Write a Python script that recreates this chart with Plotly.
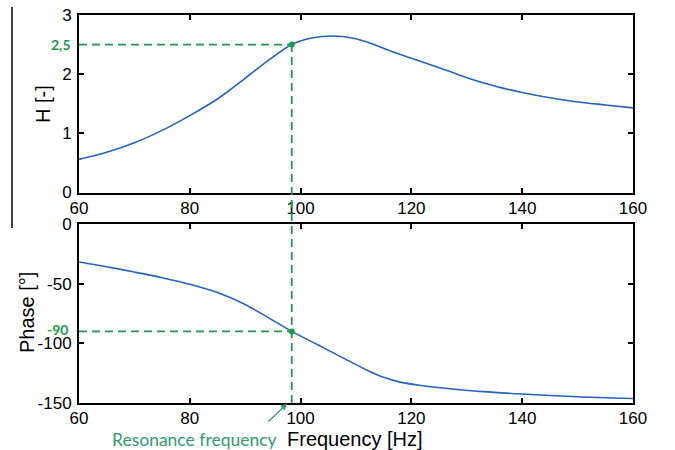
import plotly.graph_objects as go

# ---- data ----
freq_mag = [60, 65, 70, 75, 80, 85, 90, 94, 98.4, 102, 106, 110, 113, 116, 120, 125, 130, 135, 140, 145, 150, 155, 160]
mag_H    = [0.56, 0.68, 0.84, 1.05, 1.30, 1.58, 1.93, 2.22, 2.50, 2.61, 2.645, 2.60, 2.51, 2.40, 2.27, 2.11,
            1.94, 1.80, 1.69, 1.60, 1.53, 1.48, 1.43]

freq_ph  = [60, 65, 70, 75, 80, 85, 90, 94, 98.4, 103, 108, 112, 115, 118, 122, 127, 133, 140, 150, 160]
phase    = [-31.8, -35.8, -40.3, -45, -50.5, -57.5, -67.5, -78, -90, -101, -113, -122.5, -128.5, -132.5,
            -135.5, -138, -140.5, -142.5, -144.8, -146.2]

f_res = 98.4
H_res = 2.5
ph_res = -90

x_ticks = [60, 80, 100, 120, 140, 160]
x_ticktext = ["60", "80", "100", "120", "140", "160"]
yH_ticks = [0, 1, 2, 3]
yH_ticktext = ["0", "1", "2", "3"]
yP_ticks = [0, -50, -100, -150]
yP_ticktext = ["0", "-50", "-100", "-150"]

# ---- layout constants ----
W, H = 675, 450
ml, mr, mt, mb = 79, 42, 15, 47
plot_w = W - ml - mr
plot_h = H - mt - mb
top_dom = [(403 - 192.5) / plot_h, 1.0]
bot_dom = [0.0, (403 - 224) / plot_h]
H_range = [0, 3]
P_range = [-150, 0]

blue = "#2563c4"
green = "#1b9a4b"
green_txt = "#2f9a6f"
font_ax = "Liberation Sans, Arial, sans-serif"
font_green = "Lato, Open Sans, sans-serif"
DASH = "8px,5px"

fig = go.Figure()
fig.add_trace(go.Scatter(x=freq_mag, y=mag_H, mode="lines",
                         line=dict(color=blue, width=1.6, shape="spline", smoothing=0.7),
                         xaxis="x", yaxis="y", showlegend=False, hoverinfo="skip"))
fig.add_trace(go.Scatter(x=freq_ph, y=phase, mode="lines",
                         line=dict(color=blue, width=1.6, shape="spline", smoothing=0.7),
                         xaxis="x2", yaxis="y2", showlegend=False, hoverinfo="skip"))

# dashed guide lines
fig.add_trace(go.Scatter(x=[60, f_res], y=[H_res, H_res], mode="lines", line=dict(color=green, width=1.8, dash=DASH),
                         xaxis="x", yaxis="y", showlegend=False, hoverinfo="skip"))
fig.add_trace(go.Scatter(x=[60, f_res], y=[ph_res, ph_res], mode="lines", line=dict(color=green, width=1.8, dash=DASH),
                         xaxis="x2", yaxis="y2", showlegend=False, hoverinfo="skip"))
fig.add_trace(go.Scatter(x=[f_res], y=[H_res], mode="markers", marker=dict(color=green, size=6),
                         xaxis="x", yaxis="y", showlegend=False, hoverinfo="skip"))
fig.add_trace(go.Scatter(x=[f_res], y=[ph_res], mode="markers", marker=dict(color=green, size=6),
                         xaxis="x2", yaxis="y2", showlegend=False, hoverinfo="skip"))

y_top_paper = top_dom[0] + (H_res - H_range[0]) / (H_range[1] - H_range[0]) * (top_dom[1] - top_dom[0])
fig.add_shape(type="line", xref="x", yref="paper", x0=f_res, x1=f_res, y0=0, y1=y_top_paper,
              line=dict(color=green, width=1.8, dash=DASH))

# stray vertical line at far left
fig.add_shape(type="line", xref="paper", yref="paper", x0=(12 - ml) / plot_w, x1=(12 - ml) / plot_w,
              y0=(403 - 228) / plot_h, y1=(403 - 7) / plot_h, line=dict(color="black", width=1.5))

axis_common = dict(showline=True, linecolor="black", linewidth=2, mirror="ticks", ticks="inside",
                   ticklen=5, tickwidth=1.5, tickcolor="black", showgrid=False, zeroline=False,
                   automargin=False,
                   tickfont=dict(family=font_ax, size=17, color="black"))

fig.update_layout(
    width=W, height=H,
    margin=dict(l=ml, r=mr, t=mt, b=mb, autoexpand=False),
    paper_bgcolor="white", plot_bgcolor="white",
    xaxis=dict(domain=[0, 1], anchor="y", range=[60, 160], tickvals=x_ticks, ticktext=x_ticktext,
               ticklabelstandoff=-1, **axis_common),
    yaxis=dict(domain=top_dom, anchor="x", range=H_range, tickvals=yH_ticks, ticktext=yH_ticktext,
               ticklabelstandoff=2, **axis_common),
    xaxis2=dict(domain=[0, 1], anchor="y2", range=[60, 160], tickvals=x_ticks, ticktext=x_ticktext,
                ticklabelstandoff=-1, **axis_common),
    yaxis2=dict(domain=bot_dom, anchor="x2", range=P_range, tickvals=yP_ticks, ticktext=yP_ticktext,
                ticklabelstandoff=2, **axis_common),
)

# y axis titles
fig.add_annotation(x=(43 - ml) / plot_w, xref="paper", y=(403 - 104) / plot_h, yref="paper", text="H [-]",
                   textangle=-90, showarrow=False, xanchor="center", yanchor="middle",
                   font=dict(family=font_ax, size=20, color="black"))
fig.add_annotation(x=(27 - ml) / plot_w, xref="paper", y=(403 - 313) / plot_h, yref="paper", text="Phase [°]",
                   textangle=-90, showarrow=False, xanchor="center", yanchor="middle",
                   font=dict(family=font_ax, size=20, color="black"))

# green value labels on y axes
fig.add_annotation(x=0, xref="paper", y=H_res, yref="y", text="<b>2,5</b>", showarrow=False,
                   xanchor="right", xshift=-6, font=dict(family=font_green, size=14, color=green))
fig.add_annotation(x=0, xref="paper", y=ph_res, yref="y2", text="<b>-90</b>", showarrow=False,
                   xanchor="right", xshift=-9, yshift=2, font=dict(family=font_green, size=14, color=green))

# x axis title and resonance label
fig.add_annotation(x=(285 - ml) / plot_w, xref="paper", y=-(439 - 403) / plot_h, yref="paper",
                   text="Frequency [Hz]", showarrow=False, xanchor="left", yanchor="middle",
                   font=dict(family=font_ax, size=20, color="black"))
fig.add_annotation(x=(279 - ml) / plot_w, xref="paper", y=-(439 - 403) / plot_h, yref="paper",
                   text="Resonance frequency", showarrow=False, xanchor="right", yanchor="middle",
                   font=dict(family=font_green, size=17.5, color=green_txt))
# arrow to resonance point on axis
fig.add_annotation(x=f_res - 0.7, xref="x2", y=-150, yref="y2", text="", showarrow=True,
                   arrowhead=2, arrowsize=1, arrowwidth=1.3, arrowcolor=green_txt,
                   ax=-21, ay=20, standoff=1)

fig.write_html("out.html", post_script="document.body.style.margin='0';",
               config={"displayModeBar": False})
